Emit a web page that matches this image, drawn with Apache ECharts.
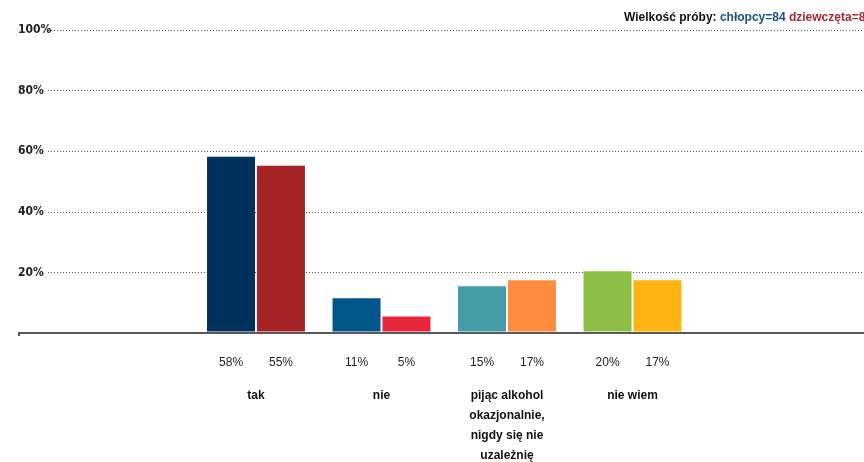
<!DOCTYPE html>
<html>
<head>
<meta charset="utf-8">
<script src="https://cdn.jsdelivr.net/npm/echarts@6/dist/echarts.min.js"></script>
<style>
  html, body { margin: 0; padding: 0; background: #fff; }
  #chart { width: 864px; height: 462px; }
</style>
</head>
<body>
<div id="chart"></div>
<script>
// odpowiedzi (puste kategorie po bokach robią miejsce jak w oryginale)
let categories = ['', 'tak', 'nie', 'pijąc alkohol\nokazjonalnie,\nnigdy się nie\nuzależnię', 'nie wiem', ''];
let boys = ['-', 58, 11, 15, 20, '-'];
let girls = ['-', 55, 5, 17, 17, '-'];
let boysColors = ['#00305c', '#00305c', '#02568a', '#439ca6', '#8dbf44', '#00305c'];
let girlsColors = ['#a62326', '#a62326', '#e8283a', '#ff8b3d', '#ffb413', '#a62326'];

let chart = echarts.init(document.getElementById('chart'));

function colored(values, colors) {
  return values.map(function (v, i) {
    return {value: v, itemStyle: {color: colors[i]}};
  });
}

let gridTop = 30;
let gridBottom = 129;

let valueLabel = {
  show: true,
  position: 'bottom',
  distance: 25,
  fontFamily: 'Liberation Sans',
  fontSize: 12,
  color: '#222',
  formatter: '{c}%'
};

let option = {
  animation: false,
  backgroundColor: '#fff',
  title: {
    left: 619,
    top: 7,
    text: '{a|Wielkość próby: }{b|chłopcy=84}{c| dziewczęta=84}',
    textStyle: {
      rich: {
        a: {fontFamily: 'Liberation Sans', fontWeight: 'bold', fontSize: 12, color: '#111'},
        b: {fontFamily: 'Liberation Sans', fontWeight: 'bold', fontSize: 12, color: '#1f4f80'},
        c: {fontFamily: 'Liberation Sans', fontWeight: 'bold', fontSize: 12, color: '#b0282c'}
      }
    }
  },
  grid: [
    // linia bazowa
    {left: 19, right: -2, top: gridTop, bottom: gridBottom, outerBoundsMode: 'none'},
    // siatka i etykiety osi Y
    {left: 48, right: 0, top: gridTop, bottom: gridBottom, outerBoundsMode: 'none'},
    // słupki
    {left: 67.75, right: 43.25, top: gridTop, bottom: gridBottom + 1.5, outerBoundsMode: 'none'}
  ],
  xAxis: [
    {
      gridIndex: 0, type: 'category', data: [''],
      axisLine: {lineStyle: {color: '#5a5a5a', width: 2}},
      axisTick: {show: true, length: 3, lineStyle: {color: '#222', width: 1.5}},
      axisLabel: {show: false}
    },
    {gridIndex: 1, type: 'category', data: [''], show: false},
    {
      gridIndex: 2, type: 'category', data: categories,
      axisLine: {show: false},
      axisTick: {show: false},
      axisLabel: {
        interval: 0,
        margin: 54.5,
        fontFamily: 'Liberation Sans',
        fontWeight: 'bold',
        fontSize: 12,
        lineHeight: 20,
        color: '#111'
      }
    }
  ],
  yAxis: [
    {gridIndex: 0, type: 'value', min: 0, max: 100, show: false},
    {
      gridIndex: 1, type: 'value', min: 0, max: 100, interval: 20,
      axisLine: {show: false},
      axisTick: {show: false},
      splitLine: {
        lineStyle: {color: '#555', type: [1, 2], width: 1},
        showMinLine: false
      },
      axisLabel: {
        margin: 30,
        align: 'left',
        fontFamily: 'DejaVu Sans Condensed',
        fontWeight: 'bold',
        fontSize: 12,
        color: '#222',
        formatter: function (v) {
          return v === 0 ? '' : v + '%';
        }
      }
    },
    {gridIndex: 2, type: 'value', min: 0, max: 100, show: false}
  ],
  series: [
    {
      name: 'chłopcy',
      type: 'bar',
      xAxisIndex: 2,
      yAxisIndex: 2,
      barWidth: 48,
      barGap: '4%',
      data: colored(boys, boysColors),
      label: valueLabel
    },
    {
      name: 'dziewczęta',
      type: 'bar',
      xAxisIndex: 2,
      yAxisIndex: 2,
      barWidth: 48,
      data: colored(girls, girlsColors),
      label: valueLabel
    }
  ]
};

chart.setOption(option);
</script>
</body>
</html>
